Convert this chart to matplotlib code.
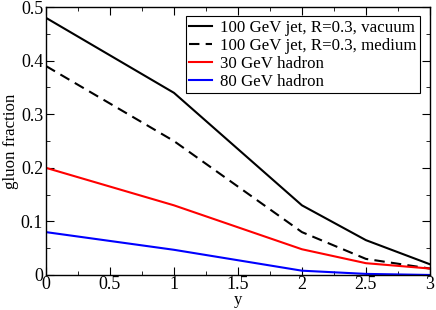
import matplotlib
matplotlib.use("Agg")
import matplotlib.pyplot as plt
from matplotlib.ticker import MultipleLocator, FuncFormatter

plt.rcParams["font.family"] = "Liberation Serif"
plt.rcParams["font.size"] = 12.2

y_vals = [0, 1, 2, 2.5, 3]
jet_vacuum = [0.48, 0.34, 0.13, 0.065, 0.02]
jet_medium = [0.39, 0.25, 0.08, 0.03, 0.012]
hadron_30 = [0.20, 0.13, 0.048, 0.022, 0.012]
hadron_80 = [0.08, 0.047, 0.008, 0.002, 0.0]

fig = plt.figure(figsize=(4.36, 3.10), dpi=100)
ax = fig.add_axes([0.1055, 0.113, 0.8805, 0.864])

ax.plot(y_vals, jet_vacuum, color="black", lw=1.5, label="100 GeV jet, R=0.3, vacuum")
ax.plot(y_vals, jet_medium, color="black", lw=1.5, ls=(0, (5, 3)), label="100 GeV jet, R=0.3, medium")
ax.plot(y_vals, hadron_30, color="red", lw=1.5, label="30 GeV hadron")
ax.plot(y_vals, hadron_80, color="blue", lw=1.5, label="80 GeV hadron")

ax.set_xlim(0, 3)
ax.set_ylim(0, 0.5)
ax.xaxis.set_major_locator(MultipleLocator(0.5))
ax.xaxis.set_minor_locator(MultipleLocator(0.25))
ax.yaxis.set_major_locator(MultipleLocator(0.1))
ax.yaxis.set_minor_locator(MultipleLocator(0.05))
ax.xaxis.set_major_formatter(FuncFormatter(lambda v, p: f"{v:g}"))
ax.yaxis.set_major_formatter(FuncFormatter(lambda v, p: f"{v:g}"))
ax.tick_params(which="both", direction="in", top=True, right=True, labelsize=13)
ax.tick_params(which="major", length=6, pad=2)
ax.tick_params(axis="x", which="major", pad=1)
ax.tick_params(which="minor", length=3)
for s in ax.spines.values():
    s.set_linewidth(1.0)

ax.set_xlabel("y", labelpad=-1, fontsize=12)
ax.set_ylabel("gluon fraction", labelpad=1)

leg = ax.legend(loc="upper right", fancybox=False, framealpha=1, edgecolor="black",
                handlelength=1.35, labelspacing=0.12, borderpad=0.2, handletextpad=0.5,
                borderaxespad=0.0, bbox_to_anchor=(0.975, 0.966))
leg.get_frame().set_linewidth(0.8)

fig.savefig("out.png", dpi=100)
